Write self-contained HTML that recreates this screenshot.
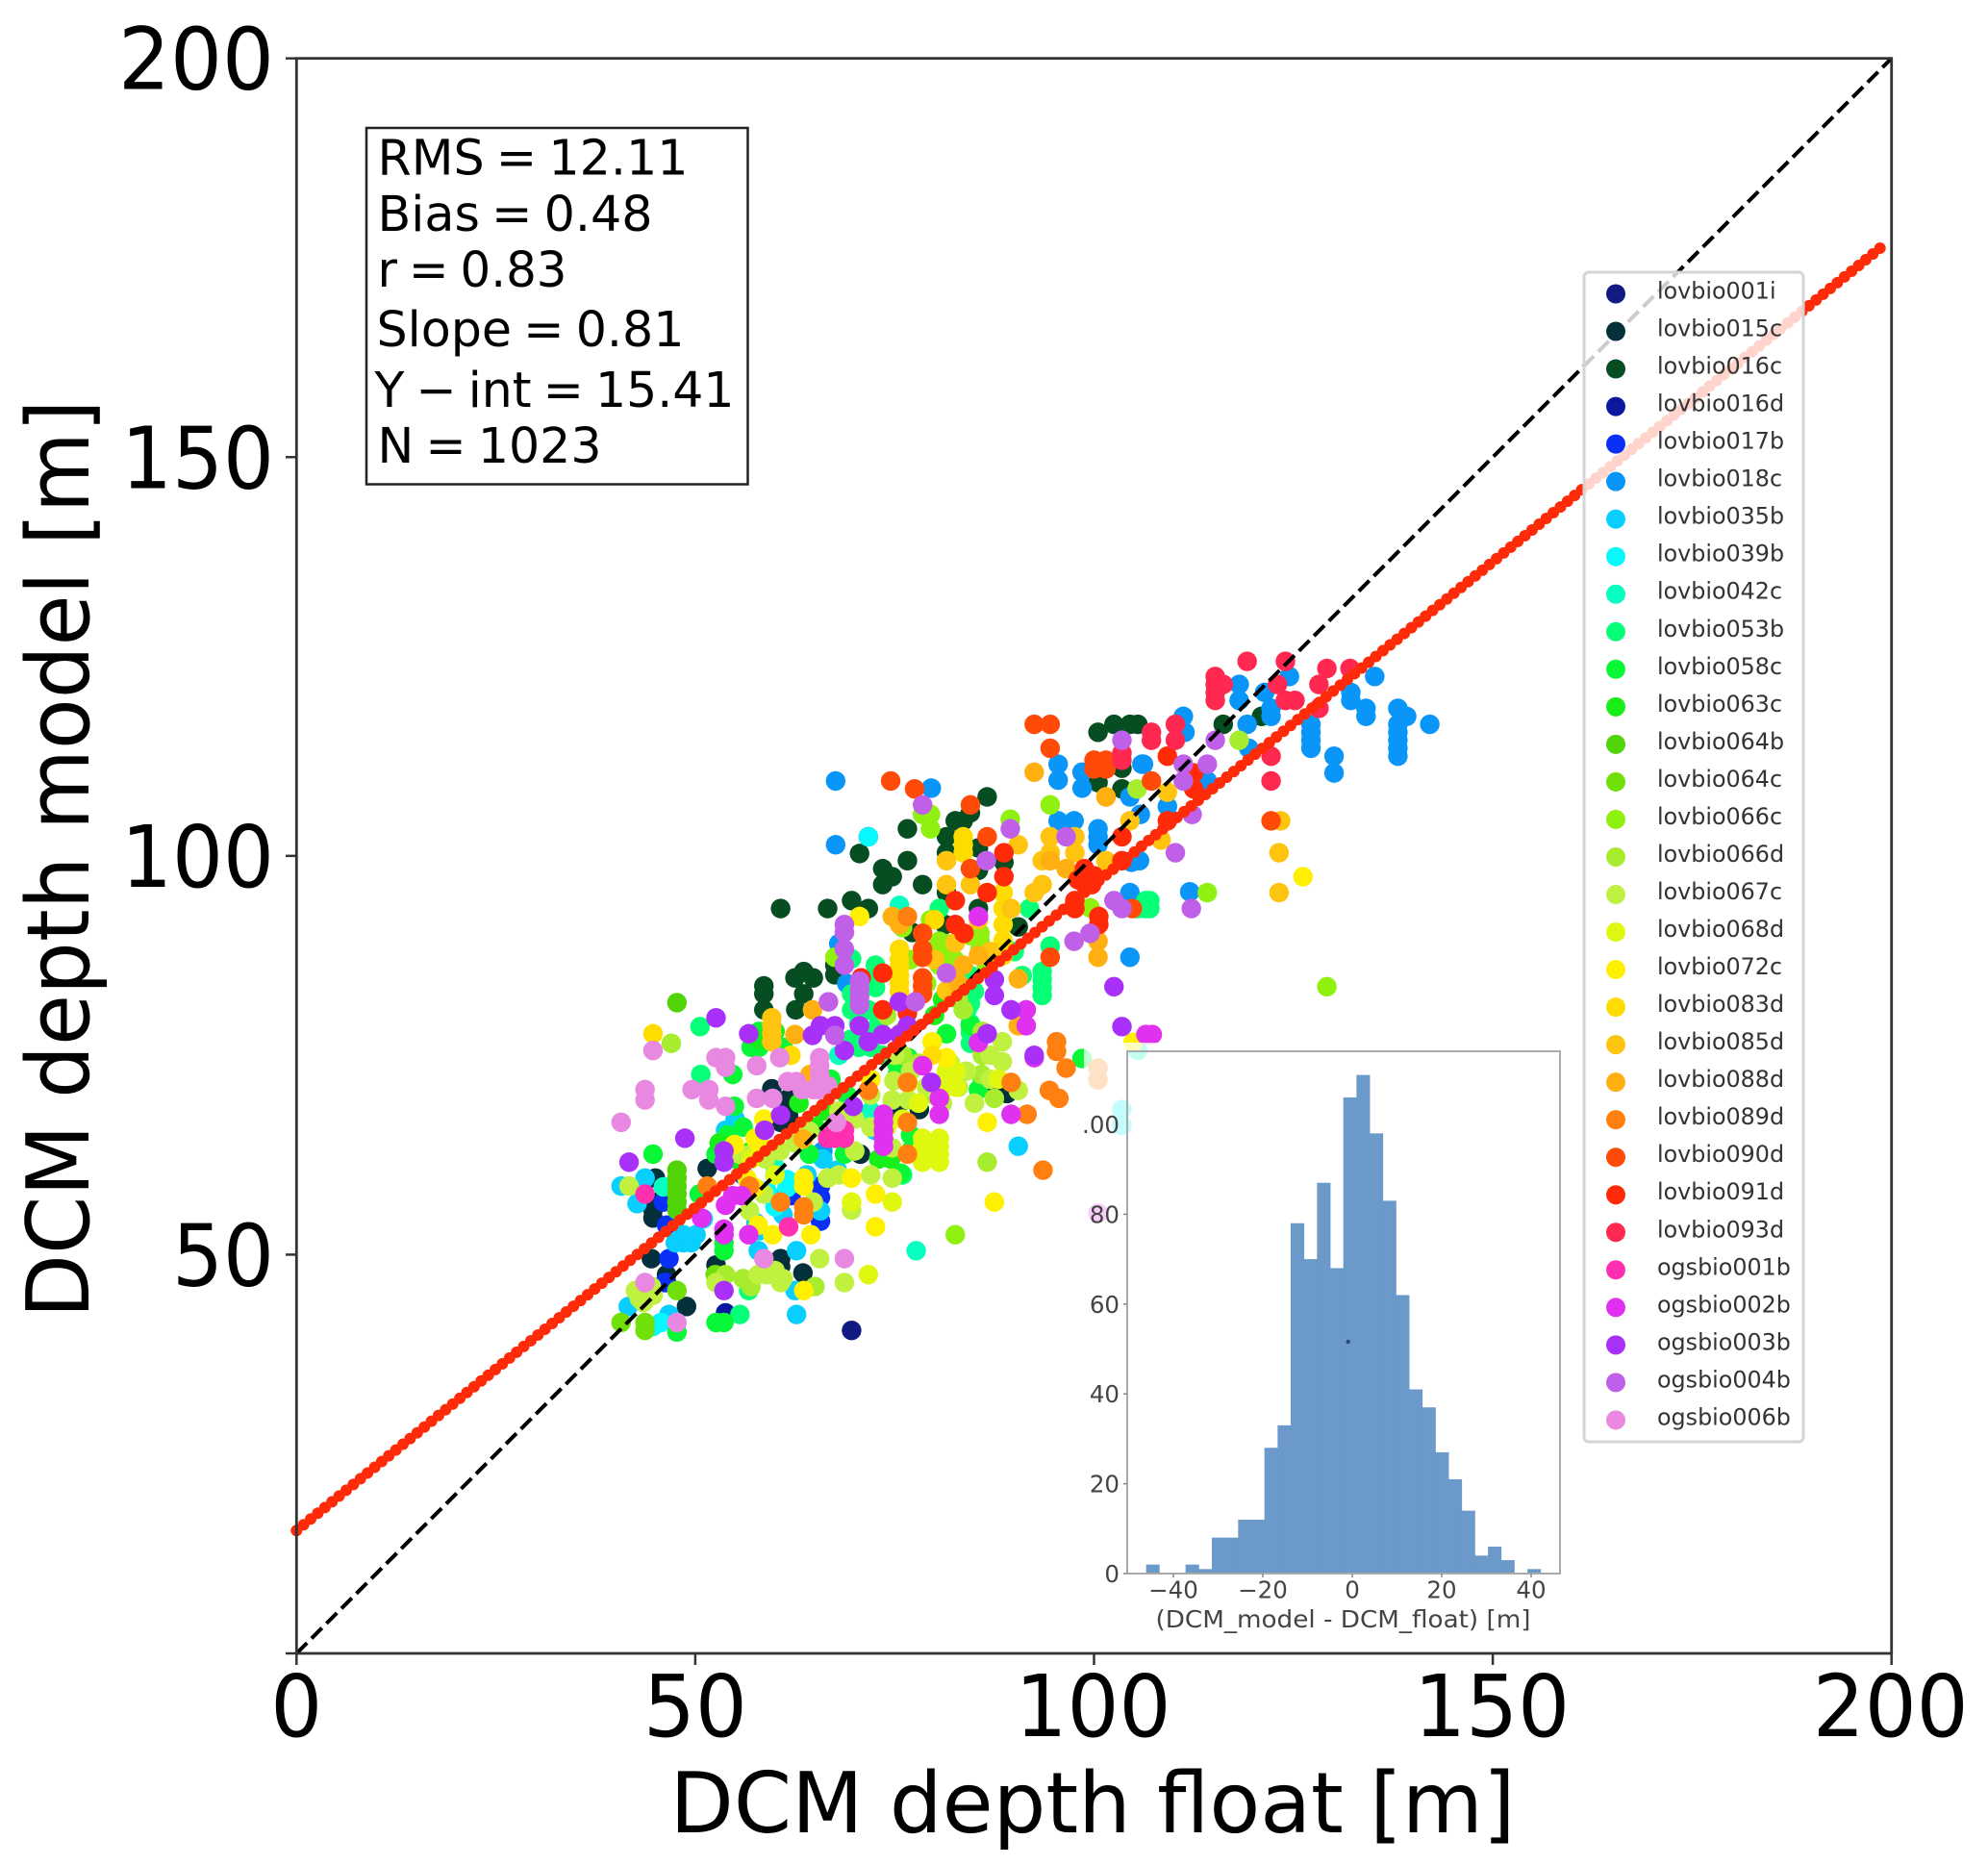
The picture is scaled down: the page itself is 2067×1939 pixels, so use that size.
<!DOCTYPE html>
<html lang="en">
<head>
<meta charset="utf-8">
<title>DCM depth model vs float</title>
<style>
html,body{margin:0;padding:0;background:#fff;width:2067px;height:1939px;overflow:hidden}
svg{display:block;font-family:"DejaVu Sans","Liberation Sans",sans-serif}
</style>
</head>
<body>
<svg id="chart" width="2067" height="1939" viewBox="0 0 2067 1939" xmlns="http://www.w3.org/2000/svg">
<rect x="0" y="0" width="2067" height="1939" fill="#fff"/>
</svg>
<script>
const mainTicks = [0, 50, 100, 150, 200];
const fitXs = [0, 198.8];
const fitYs = [15.41, 176.4];
const oneToOne = [0, 200];
const statsLines = ['RMS = 12.11', 'Bias = 0.48', 'r = 0.83', 'Slope = 0.81', 'Y \u2212 int = 15.41', 'N = 1023'];

const histCounts = [2,0,0,2,1,8,8,12,12,28,33,78,70,87,68,106,111,98,83,62,41,37,27,21,14,4,6,3,0,1];
const histStart = [-46.1];
const histBinWidth = [2.94];
const histXTicks = [-40, -20, 0, 20, 40];
const histYTicks = [0, 20, 40, 60, 80];
const histYTickLabels = ['0', '20', '40', '60', '80'];

const seriesNames = ['lovbio001i','lovbio015c','lovbio016c','lovbio016d','lovbio017b','lovbio018c','lovbio035b','lovbio039b','lovbio042c','lovbio053b','lovbio058c','lovbio063c','lovbio064b','lovbio064c','lovbio066c','lovbio066d','lovbio067c','lovbio068d','lovbio072c','lovbio083d','lovbio085d','lovbio088d','lovbio089d','lovbio090d','lovbio091d','lovbio093d','ogsbio001b','ogsbio002b','ogsbio003b','ogsbio004b','ogsbio006b'];
const seriesColors = ['#101a80','#04303c','#064d22','#0a18a0','#0a30f8','#0a96f8','#08cfff','#08f8ff','#08ffc0','#08ff78','#08f838','#18ee18','#50d408','#70e008','#90f010','#a8ec30','#c0f040','#e0f810','#fff000','#ffdc00','#ffc410','#ffb010','#ff8010','#ff4a08','#ff2a08','#ff2850','#ff30b0','#e030f0','#a830f8','#c060e8','#e888e0'];

const lovbio001i = [[69.6,40.5]];
const lovbio015c = [[44.7,56.6],[44.7,55.6],[44.7,54.6],[45,59.6],[51.5,60.8],[59.6,70.8],[61.7,69.6],[61.7,68.6],[61.7,67.4],[60.7,66.6],[59.7,61.8],[70.7,62.6],[44.5,49.5],[52.6,48.7],[60.7,49.5],[60.7,48.5],[63.5,47.7],[48.9,43.5],[87.1,71.4],[89.1,70.2],[75.3,68.2],[78.1,68.2],[46.4,47.5]];
const lovbio016c = [[71.7,102.4],[70.6,100.3],[76.6,103.4],[76.6,99.4],[73.5,98.4],[74.7,97.4],[73.5,96.4],[78.5,96.4],[86.6,107.4],[84.5,105.4],[82.6,104.4],[83.6,104.4],[81.5,102.4],[81.5,100.4],[60.7,93.4],[66.6,93.4],[69.6,94.4],[71.7,93.4],[81.5,95.4],[88.7,99.2],[85.5,93.4],[81.3,91.4],[77.2,90.4],[90.5,91.1],[58.6,83.7],[58.6,82.7],[58.6,80.7],[63.6,85.5],[62.5,84.7],[64.8,84.7],[63.6,82.7],[62.6,80.7],[67.5,85.1],[67.5,86.3],[100.5,115.5],[102.5,116.5],[105.5,116.5],[104.5,116.5],[103.5,111],[103.5,108.4],[116.2,116.5],[121,117.5],[100.5,109.2],[85.5,101],[85.5,98.2]];
const lovbio016d = [[53.8,42.7],[46.4,46.5]];
const lovbio017b = [[46.4,53.7],[46.7,49.5],[46.2,46.5],[46,56.6],[65.7,58.6],[65.7,57.2],[65.7,54.2],[62,57.4],[56,60]];
const lovbio018c = [[67.6,109.4],[67.6,101.4],[79.6,108.5],[95.5,111.5],[95.5,109.5],[98.5,110.5],[98.5,108.5],[95.5,104.4],[97.5,104.4],[100.5,103.4],[100.5,102.4],[100.5,101.4],[104.5,95.4],[104.5,87.3],[105.7,99.4],[106,111.5],[104.5,107.4],[118.2,121.5],[118.2,119.5],[121.4,120.5],[122.2,118.5],[122.2,117.5],[124.5,122.5],[135.2,122.5],[132.2,120.5],[132.2,119.5],[134.1,118.5],[134.1,117.5],[138.1,118.5],[139.2,117.5],[138.1,116.5],[138.1,115.5],[138.1,114.5],[138.1,113.5],[138.1,112.5],[142.1,116.5],[127.2,116.5],[127.2,115.5],[127.2,114.5],[127.2,113.5],[130.1,112.5],[130.1,110.4],[119.2,116.5],[119.4,113.5],[111.2,117.5],[111.4,115.5],[114.2,109.4],[109.2,106.2],[106.2,111.5],[112,95.5],[105.8,105.2],[104.7,99.2],[68,89],[69,84],[66,63],[60,60]];
const lovbio035b = [[40.7,58.6],[43.7,59.6],[42.7,56.4],[47.5,51.5],[48.5,51.5],[49.5,51.5],[50.1,52.5],[48.5,52.5],[53.8,65.6],[67.8,60.6],[90.5,63.6],[62.7,50.5],[57.9,50.5],[41.6,43.5],[46.7,42.5],[62.5,45.5],[62.7,42.5],[65.7,55.5],[66,62],[72.5,65.6],[57.6,54],[51,54.5],[55,67],[60,57],[64,60],[58,53],[61,55]];
const lovbio039b = [[61.5,59.4],[61.5,58.4],[62.5,59],[45.7,41.5],[44.7,41],[103.5,68.2],[103.5,66.2],[71.7,102.4],[60,56],[59,58]];
const lovbio042c = [[75.6,93.8],[77.7,50.5],[105.5,75.6],[60,61],[46,58.5],[65,72],[72,68],[68,75]];
const lovbio053b = [[80.6,93.4],[91.9,93.4],[93.5,85.5],[93.5,84.5],[93.5,83.5],[93.5,82.5],[94.5,88.7],[72.6,86.3],[72.6,83.5],[69.6,87.1],[69.6,82.7],[69.6,80.7],[71.7,80.7],[50.6,78.6],[50.7,72.6],[84.1,80.7],[84.5,77.9],[84.5,76.5],[56.7,45.5],[55.6,42.5],[106.5,94.4],[106.5,93.4],[105.5,93.4],[107,94.4],[107,93.4],[76,60],[70,82],[70.5,79],[71.7,78],[73,79],[72.6,85],[84.5,85],[85,83],[84.5,81.5],[84.5,79],[69.5,77],[70.5,76],[72,76],[73.5,75],[75.5,75],[90,88],[91,85]];
const lovbio058c = [[54.7,72.6],[54.9,68.6],[44.7,62.6],[64.3,62.6],[68.7,62.6],[53.6,41.5],[47.7,40.3],[81.5,77.7],[76.7,74.7],[75.3,73.8],[75.3,72.5],[76,72.5],[84.5,78.7],[85.5,70.7],[98.5,74.6],[75.8,60.2],[52.6,41.5],[53.6,51.5],[53.6,50.5],[52.6,62.6],[50.5,57.6],[86,72],[77,65],[77,63],[58,78],[57,76],[58,76],[61,76],[56,66],[54,65],[67,72],[69,70],[72,72]];
const lovbio063c = [[60,78],[58,77],[55,62],[57,63],[53,64],[73,62],[74.5,62],[65,66],[63,69],[66,68],[80,80],[81,82]];
const lovbio064b = [[47.7,81.6],[47.7,60.6],[47.7,59.6],[47.7,58.6],[47.7,57.6],[47.7,56.6],[47.7,55.6]];
const lovbio064c = [[40.7,41.5],[43.7,41.5],[43.7,40.5],[47.7,45.5],[52.5,47.5]];
const lovbio066c = [[78.5,105.2],[79.5,105.2],[79.5,103.4],[89.5,104.6],[94.5,106.4],[80.6,89.3],[80.6,88.3],[80.6,87.3],[80.6,86.3],[85.7,90.3],[85.7,89.3],[85.7,88.3],[99.5,93.5],[114.2,95.4],[129.2,83.6],[82.6,52.5],[67.5,87.3],[81.5,89],[82.5,87],[84.5,90],[86.5,86],[79,84],[77,87],[76,91],[79.5,92]];
const lovbio066d = [[118.2,114.5],[105.4,108.4],[86.6,61.6],[83.6,80.7],[87.5,69.6],[85.9,72.6],[53.8,47.5],[47,76.5],[76,75],[78,74],[80,70],[86,75],[76,78],[74,80],[83,82],[86,78],[56,47],[57,46],[65,46]];
const lovbio067c = [[88.5,74.2],[88.5,76.7],[90.5,70.6],[74.7,59.6],[66.6,59.6],[41.7,58.6],[57.9,47.5],[59,47.5],[60.7,46.5],[43,44.5],[44.7,44.9],[52.6,46.5],[58.6,57.6],[64.8,56.6],[56.8,55.5],[69.6,55.6],[68.7,46.5],[65.6,49.5],[74.7,69.4],[76.7,69.4],[74.7,63.4],[74.9,71.8],[82,74],[84,73],[75,75],[77,73],[79,71],[81,69],[83,71],[85,69],[87,72],[87,75],[72,70],[70,67],[68,68],[72,66],[55.6,62.6],[57,62.6],[58.8,62],[60.6,63],[62.5,64],[64.3,65.5],[42.5,45.5],[43.5,44],[44.5,46],[60,48],[61,47],[70,63],[68,60],[72,60]];
const lovbio068d = [[78.5,64.6],[78.5,63.6],[78.5,62.6],[78.5,61.6],[80.6,64.6],[80.6,63.6],[80.6,62.6],[80.6,61.6],[79.5,63.4],[81.5,73],[82.7,73],[81.5,71],[82.7,71],[74.7,56.6],[69.6,56.6],[71.7,47.5],[60,60],[57,62],[76.7,71.5],[88,72],[78,69],[76,67],[74,66]];
const lovbio072c = [[79.7,76.7],[81.5,74.7],[86.6,66.6],[87.5,56.6],[69.6,59.6],[63.6,59.6],[63.6,58.6],[72.6,57.6],[72.6,53.5],[64.5,52.5],[59.7,52.5],[57.9,53.7],[63.6,45.5],[54.9,63.8],[57.5,64.6],[58.6,67],[70.6,92.4],[126.2,97.4],[104.9,76.6],[56.5,59.5],[57.5,58.4],[58,64],[72,72]];
const lovbio083d = [[44.7,77.7],[88.6,95.4],[88.6,93.4],[88.6,91.4],[88.6,89.4],[83.6,102.4],[83.6,101.4],[83.6,100.4],[75.6,88.3],[75.6,87],[75.6,86],[75.6,85],[75.6,84],[75.6,83],[62,75],[79.7,75],[88.6,87.5],[80,92]];
const lovbio085d = [[81.5,99.4],[81.5,96.4],[84.5,96.4],[90.5,101.4],[94.5,102.4],[94.5,100.4],[93.5,99.4],[97.6,102.4],[97.6,100.4],[101.5,99.4],[93.5,96.4],[92.5,95.4],[123.2,95.4],[123.2,100.4],[123.4,104.4],[104.5,104.4],[108.4,102],[109.2,108],[59.6,79.7],[59.6,78.7],[59.6,77.7],[59.6,76.7],[89.6,93.4],[82.6,89.1],[81.5,83.1],[80,87],[82,85],[87,88],[85.5,92]];
const lovbio088d = [[92.5,110.5],[101.5,107.4],[74.7,92.4],[75.6,91.4],[83.6,86.3],[85.5,87.5],[90.5,84.6],[100.5,89.3],[100.5,87.3],[94.5,99.4],[96.5,98.4],[101.5,107.4],[64.7,80.7],[62.5,77.6],[90.5,78.7],[64.4,72.6],[63.5,64.5],[83,84]];
const lovbio089d = [[76.6,92.4],[95.3,76.7],[95.3,75.5],[96.5,73.4],[94.4,70.6],[95.6,69.6],[93.6,60.6],[91.6,67.6],[89.6,71.6],[76.6,71.6],[71.7,70.6],[76.6,66.6],[76.6,62.6],[63.6,55],[63.6,56],[60.7,56.6],[51.5,58.6],[56.8,58.6],[100.5,73.4],[100.5,71.9]];
const lovbio090d = [[92.5,116.5],[94.5,116.5],[94.5,113.5],[74.5,109.4],[77.5,108.4],[84.5,106.4],[84.5,98.4],[86.6,102.4],[100,110.9],[101.5,110.9],[100,112],[101.5,112],[100.7,111.5],[107.2,109.4],[122.2,104.4],[94.5,87.3],[78.5,90.3],[78.5,88.3],[78.5,87.3],[78.5,84.7],[78.5,83.7],[78.5,82.7],[104.8,93.4]];
const lovbio091d = [[82.6,94.4],[88.7,100.4],[88.7,97.4],[86.6,95.4],[82.6,91.4],[83.7,90.3],[103.5,102.4],[103.5,99.4],[98.8,98.4],[99.7,96.4],[97.6,94.4],[97.6,93.4],[100.6,92.4],[100.6,91.4],[73.5,85.3],[70.8,84.7],[73.5,80.7],[76.6,80.3],[109.2,112.5],[109.2,104.4],[112.5,108.4],[112.5,110.4],[98.8,96.5],[98,97],[100,97.5]];
const lovbio093d = [[119.2,124.4],[124,124.4],[115.2,122.5],[115.2,121.5],[115.2,120.5],[115.2,119.5],[129.2,123.5],[132.1,123.5],[128.2,121.5],[123,121.5],[124,119.5],[128.2,118.5],[122.2,112.5],[122.2,109.4],[107.2,115.5],[107.2,114.5],[110.2,116.5],[110.2,114.5],[103.5,112.9],[103.5,112],[116.2,121.5],[125.2,119.5]];
const ogsbio001b = [[43.7,57.6],[67.5,64.6],[68.7,64.6],[66.6,64.6],[67.5,65.6],[68.7,65.6],[61.7,53.5]];
const ogsbio002b = [[91.5,80.7],[91.5,78.7],[85.5,76.6],[106.5,77.6],[107.3,77.6],[92.5,74.7],[89.6,67.6],[78.5,73.7],[80.6,69.6],[80.6,67.6],[73.6,67.6],[73.6,66.6],[73.6,65.6],[73.6,64.6],[73.6,63.6],[56.7,52.5],[53.6,52.5],[53.6,53.2],[54.7,57.4],[55.8,57.4],[53.8,56.2],[50.8,54.6],[85.5,92.4],[100.5,55.2]];
const ogsbio003b = [[52.6,79.7],[56.7,77.7],[87.5,84.5],[87.5,82.5],[89.6,80.7],[102.5,83.6],[103.5,78.6],[86.6,77.7],[75.6,81.7],[64.7,77.5],[65.7,78.7],[67.5,78.7],[70.6,78.7],[71.7,76.7],[73.5,77.6],[75.6,77.6],[76.6,78.7],[68.7,75.6],[92.5,75],[48.7,64.6],[41.7,61.6],[58.7,65.6],[60.7,67.5],[53.6,63],[53.6,61.6],[69.8,68.6],[79.6,71.6],[53.6,45.5]];
const ogsbio004b = [[78.5,106.4],[89.5,103.4],[96.5,102.4],[86.5,99.4],[68.7,91.4],[68.7,90.4],[68.7,88.3],[68.7,86.3],[70.6,84.3],[70.6,83.3],[70.6,82.3],[70.6,81.3],[66.7,81.7],[77.6,81.7],[81.5,85.3],[103.5,114.5],[115.2,114.5],[114.2,111.5],[111.2,111.5],[111.2,109.4],[112.3,105.2],[110.2,100.4],[112.2,93.4],[102.5,94.4],[103.5,93.4],[99.5,90.3],[97.5,89.3],[67.5,77.5]];
const ogsbio006b = [[44.7,75.6],[52.6,74.7],[53.8,74.7],[53.8,73.5],[57.7,73.7],[60.6,74.7],[65.6,74.7],[65.6,73.7],[65.6,72.7],[65.6,71.7],[65.6,70.7],[61.6,71.7],[62.7,71.7],[63.4,70.7],[64.8,70.7],[66.6,71.2],[43.7,70.7],[43.7,69.4],[40.7,66.6],[49.6,70.7],[51.7,70.7],[51.7,69.4],[53.8,68.6],[57.7,69.6],[59.7,69.6],[67.7,66.6],[43.7,46.5],[47.7,41.5],[58.6,49.5],[68.7,49.5]];
const seriesPoints = [lovbio001i,lovbio015c,lovbio016c,lovbio016d,lovbio017b,lovbio018c,lovbio035b,lovbio039b,lovbio042c,lovbio053b,lovbio058c,lovbio063c,lovbio064b,lovbio064c,lovbio066c,lovbio066d,lovbio067c,lovbio068d,lovbio072c,lovbio083d,lovbio085d,lovbio088d,lovbio089d,lovbio090d,lovbio091d,lovbio093d,ogsbio001b,ogsbio002b,ogsbio003b,ogsbio004b,ogsbio006b];

const svg = document.getElementById('chart');
const NS = 'http://www.w3.org/2000/svg';
function make(parent, tag, attrs, text) {
  const el = document.createElementNS(NS, tag);
  for (const k in attrs) el.setAttribute(k, attrs[k]);
  if (text !== undefined) el.textContent = text;
  parent.appendChild(el);
  return el;
}
const xScale = v => 308.3 + v * (1966.7 - 308.3) / 200;
const yScale = v => 1719 - v * (1719 - 60.7) / 200;
const hxScale = v => 1406 + v * 4.65;
const hyScale = v => 1636 - v * 4.67;

// scatter series
seriesNames.forEach((name, i) => {
  const g = make(svg, 'g', { fill: seriesColors[i] });
  
  
  seriesPoints[i].forEach(p => {
    const c = make(g, 'circle', { cx: xScale(p[0]), cy: yScale(p[1]), r: 10.2 });
    
    
  });
});

// one-to-one line
const diag = make(svg, 'line', { x1: xScale(oneToOne[0]), y1: yScale(oneToOne[0]), x2: xScale(oneToOne[1]), y2: yScale(oneToOne[1]), stroke: '#000', 'stroke-width': 4, 'stroke-dasharray': '15.4 6.6' });



// fit line, drawn as a string of dots
const fit = make(svg, 'line', { x1: xScale(fitXs[0]), y1: yScale(fitYs[0]), x2: xScale(fitXs[1]), y2: yScale(fitYs[1]), stroke: '#ff2a08', 'stroke-width': 12, 'stroke-linecap': 'round', 'stroke-dasharray': '0 9.5' });



// frame
const frame = make(svg, 'rect', { x: 308.3, y: 60.7, width: 1658.4, height: 1658.3, fill: 'none', stroke: '#333', 'stroke-width': 2.8 });



// ticks and labels
mainTicks.forEach(t => {
  const digits = String(t).length;
  const xt = make(svg, 'line', { x1: xScale(t), x2: xScale(t), y1: 1719, y2: 1731, stroke: '#333', 'stroke-width': 2.5 });
  
  
  const xl = make(svg, 'text', { x: xScale(t) - (t < 100 ? 0 : 1), y: 1805, 'text-anchor': 'middle', 'font-size': 89, fill: '#000', textLength: 54 * digits, lengthAdjust: 'spacingAndGlyphs' }, String(t));
  
  
  const yt = make(svg, 'line', { x1: 297, x2: 308.3, y1: yScale(t), y2: yScale(t), stroke: '#333', 'stroke-width': 2.5 });
  
  
  if (t > 0) {
    const yl = make(svg, 'text', { x: 285, y: yScale(t) + 32, 'text-anchor': 'end', 'font-size': 89, fill: '#000', textLength: (t === 200 ? 54 : 53) * digits, lengthAdjust: 'spacingAndGlyphs' }, String(t));
    
    
  }
});

// axis titles
const xTitle = make(svg, 'text', { x: 1136, y: 1905, 'text-anchor': 'middle', 'font-size': 87, fill: '#000', textLength: 879, lengthAdjust: 'spacingAndGlyphs' }, 'DCM depth float [m]');


const yTitle = make(svg, 'text', { transform: 'translate(92 893) rotate(-90)', 'text-anchor': 'middle', 'font-size': 90, fill: '#000', textLength: 955, lengthAdjust: 'spacingAndGlyphs' }, 'DCM depth model [m]');



// stats box
const stats = make(svg, 'rect', { x: 381, y: 133, width: 396.5, height: 370.5, fill: '#fff', stroke: '#222', 'stroke-width': 2.5 });


const statsBaselines = [181.7, 240, 298, 360, 423, 481];
const statsX = [392.5, 392.5, 392.5, 391.5, 389.5, 392.5];
const statsWidths = [323, 286, 197, 320, 374, 233];
statsLines.forEach((s, i) => {
  const t = make(svg, 'text', { x: statsX[i], y: statsBaselines[i], 'font-size': 50.5, 'word-spacing': -4, fill: '#000', textLength: statsWidths[i], lengthAdjust: 'spacingAndGlyphs' }, s);
  
  
});

// legend
const legend = make(svg, 'g', {});


const legendBox = make(legend, 'rect', { x: 1647, y: 283, width: 228, height: 1216, rx: 5, fill: 'rgba(255,255,255,0.8)', stroke: '#d4d4d4', 'stroke-width': 3 });


seriesNames.forEach((name, i) => {
  const ry = 305.5 + i * 39.03;
  const m = make(legend, 'circle', { cx: 1680, cy: ry, r: 10, fill: seriesColors[i] });
  
  
  const t = make(legend, 'text', { x: 1723, y: ry + 5, 'font-size': 23.8, fill: '#333' }, name);
  
  
});

// inset histogram
const inset = make(svg, 'g', {});


const veil = make(inset, 'rect', { x: 1127, y: 1084, width: 510, height: 631, fill: 'rgba(255,255,255,0.76)' });


histCounts.forEach((c, i) => {
  if (!c) return;
  const x0 = hxScale(histStart[0] + i * histBinWidth[0]);
  const x1 = hxScale(histStart[0] + (i + 1) * histBinWidth[0]);
  const b = make(inset, 'rect', { x: x0, y: hyScale(c), width: x1 - x0 + 0.4, height: hyScale(0) - hyScale(c), fill: '#6b99c9' });
  
  
});
const insetFrame = make(inset, 'rect', { x: 1172, y: 1093, width: 450, height: 543, fill: 'none', stroke: '#aaa', 'stroke-width': 2 });


histXTicks.forEach(t => {
  const tk = make(inset, 'line', { x1: hxScale(t), x2: hxScale(t), y1: 1636, y2: 1640, stroke: '#888', 'stroke-width': 1.5 });
  
  
  const l = make(inset, 'text', { x: hxScale(t), y: 1661.5, 'text-anchor': 'middle', 'font-size': 24.5, fill: '#444' }, String(t).replace('-', '\u2212'));
  
  
});
histYTicks.forEach((t, i) => {
  const tk = make(inset, 'line', { x1: 1168, x2: 1172, y1: hyScale(t), y2: hyScale(t), stroke: '#888', 'stroke-width': 1.5 });
  
  
  const l = make(inset, 'text', { x: 1164, y: hyScale(t) + 9, 'text-anchor': 'end', 'font-size': 24.5, fill: '#444' }, histYTickLabels[i]);
  
  
});
const clipped = make(inset, 'text', { x: 1164, y: hyScale(100) + 9, 'text-anchor': 'end', 'font-size': 24.5, fill: '#444' }, '.00');


const insetTitle = make(inset, 'text', { x: 1396.5, y: 1692, 'text-anchor': 'middle', 'font-size': 25, fill: '#444', textLength: 390, lengthAdjust: 'spacingAndGlyphs' }, '(DCM_model - DCM_float) [m]');


const speck = make(inset, 'circle', { cx: 1401.7, cy: 1395, r: 2.2, fill: '#2a4a78' });


</script>
</body>
</html>
